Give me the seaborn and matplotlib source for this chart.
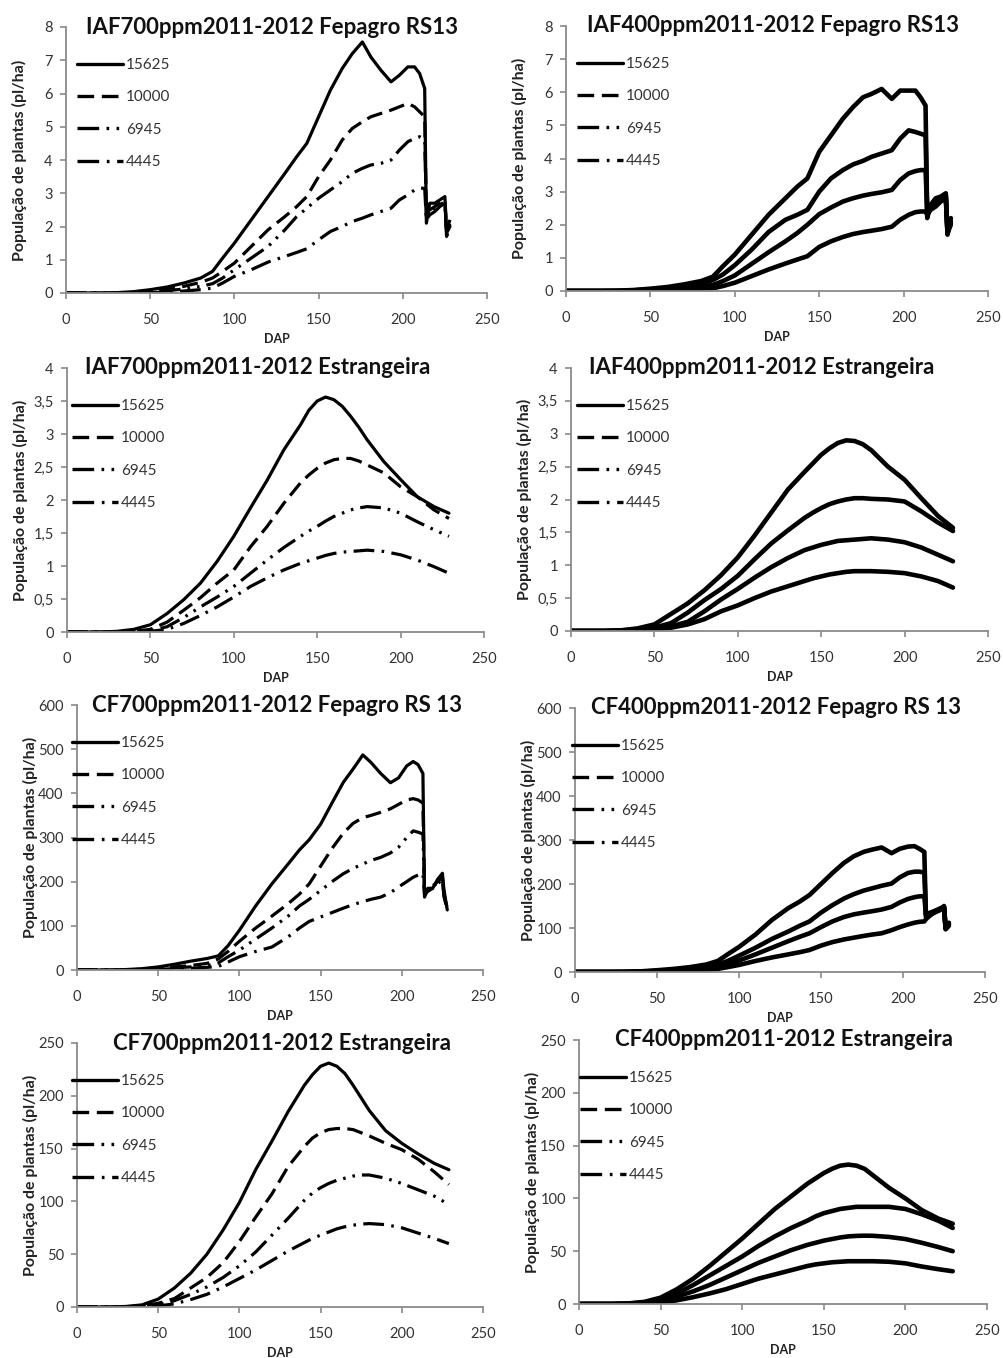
import matplotlib
matplotlib.use("Agg")
import matplotlib.pyplot as plt
import seaborn as sns
from matplotlib.lines import Line2D
from matplotlib.ticker import FuncFormatter

sns.set_theme(style="white")
plt.rcParams['font.family'] = ['Lato', 'DejaVu Sans']

# ---------------- data ----------------
densities = ["15625", "10000", "6945", "4445"]

dap_fep = [0, 20, 30, 40, 50, 60, 70, 80, 87, 93, 100, 110, 120, 130, 137, 143, 150, 157, 164, 170,
           176, 181, 187, 193, 198, 203, 207, 210, 213, 214, 216, 219, 222, 225, 226, 228]
dap_est = [0, 10, 20, 30, 40, 50, 60, 70, 80, 90, 100, 110, 120, 130, 140, 145, 150, 155, 160, 165,
           170, 175, 180, 190, 200, 210, 220, 229]

# IAF 700 ppm Fepagro RS13
iaf700_fep_15625 = [0, 0, 0.01, 0.04, 0.1, 0.18, 0.3, 0.45, 0.65, 1.05, 1.5, 2.2, 2.9, 3.6, 4.1, 4.5, 5.3, 6.1, 6.75, 7.2,
                    7.55, 7.1, 6.7, 6.35, 6.55, 6.8, 6.8, 6.6, 6.15, 2.1, 2.7, 2.7, 2.8, 2.9, 1.8, 2.0]
iaf700_fep_10000 = [0, 0, 0, 0.02, 0.06, 0.12, 0.2, 0.32, 0.45, 0.65, 0.9, 1.4, 1.9, 2.3, 2.6, 2.9, 3.5, 4.0, 4.6, 4.95,
                    5.15, 5.3, 5.4, 5.5, 5.6, 5.7, 5.6, 5.45, 5.3, 2.4, 2.5, 2.6, 2.7, 2.8, 1.9, 2.2]
iaf700_fep_6945 = [0, 0, 0, 0.01, 0.03, 0.07, 0.12, 0.2, 0.28, 0.45, 0.7, 1.05, 1.4, 1.9, 2.3, 2.55, 2.85, 3.1, 3.35, 3.6,
                   3.75, 3.85, 3.9, 4.0, 4.3, 4.55, 4.65, 4.7, 4.6, 2.3, 2.45, 2.55, 2.65, 2.75, 1.75, 2.1]
iaf700_fep_4445 = [0, 0, 0, 0, 0.01, 0.03, 0.06, 0.1, 0.15, 0.3, 0.5, 0.7, 0.93, 1.1, 1.22, 1.33, 1.6, 1.85, 2.0, 2.15,
                   2.25, 2.35, 2.45, 2.55, 2.8, 2.95, 3.1, 3.15, 3.15, 2.2, 2.35, 2.45, 2.6, 2.7, 1.7, 2.0]

# IAF 400 ppm Fepagro RS13
iaf400_fep_15625 = [0, 0, 0.01, 0.03, 0.07, 0.12, 0.2, 0.3, 0.43, 0.75, 1.1, 1.7, 2.3, 2.8, 3.15, 3.4, 4.2, 4.7, 5.2, 5.55,
                    5.85, 5.95, 6.1, 5.8, 6.05, 6.05, 6.05, 5.85, 5.6, 2.2, 2.6, 2.8, 2.85, 2.95, 1.7, 2.2]
iaf400_fep_10000 = [0, 0, 0, 0.02, 0.05, 0.09, 0.15, 0.23, 0.33, 0.5, 0.78, 1.25, 1.78, 2.15, 2.3, 2.45, 3.0, 3.4, 3.65, 3.82,
                    3.93, 4.05, 4.15, 4.25, 4.6, 4.85, 4.8, 4.75, 4.7, 2.3, 2.5, 2.7, 2.8, 2.9, 1.8, 2.1]
iaf400_fep_6945 = [0, 0, 0, 0.01, 0.03, 0.06, 0.1, 0.14, 0.18, 0.3, 0.47, 0.82, 1.17, 1.5, 1.75, 2.0, 2.32, 2.52, 2.7, 2.8,
                   2.88, 2.93, 2.98, 3.05, 3.35, 3.55, 3.62, 3.65, 3.65, 2.4, 2.55, 2.65, 2.75, 2.85, 1.8, 2.05]
iaf400_fep_4445 = [0, 0, 0, 0, 0.01, 0.03, 0.05, 0.07, 0.08, 0.15, 0.25, 0.45, 0.65, 0.83, 0.95, 1.05, 1.33, 1.5, 1.63, 1.72,
                   1.78, 1.82, 1.87, 1.94, 2.15, 2.3, 2.38, 2.4, 2.4, 2.3, 2.45, 2.55, 2.7, 2.8, 1.75, 2.0]

# IAF 700 ppm Estrangeira
iaf700_est_15625 = [0, 0, 0, 0.01, 0.04, 0.11, 0.28, 0.49, 0.74, 1.07, 1.45, 1.88, 2.3, 2.76, 3.14, 3.36, 3.5, 3.56, 3.52, 3.42,
                    3.27, 3.1, 2.91, 2.58, 2.31, 2.05, 1.9, 1.8]
iaf700_est_10000 = [0, 0, 0, 0, 0.01, 0.04, 0.15, 0.33, 0.52, 0.74, 0.94, 1.29, 1.6, 1.95, 2.26, 2.38, 2.48, 2.56, 2.61, 2.63,
                    2.63, 2.59, 2.53, 2.41, 2.2, 2.05, 1.85, 1.72]
iaf700_est_6945 = [0, 0, 0, 0, 0, 0.02, 0.08, 0.22, 0.38, 0.53, 0.69, 0.89, 1.09, 1.28, 1.45, 1.53, 1.6, 1.68, 1.75, 1.8,
                   1.85, 1.88, 1.9, 1.88, 1.8, 1.67, 1.55, 1.45]
iaf700_est_4445 = [0, 0, 0, 0, 0, 0.01, 0.04, 0.13, 0.25, 0.38, 0.53, 0.69, 0.82, 0.94, 1.04, 1.08, 1.12, 1.16, 1.19, 1.21,
                   1.22, 1.23, 1.24, 1.22, 1.17, 1.09, 0.99, 0.89]

# IAF 400 ppm Estrangeira
iaf400_est_15625 = [0, 0, 0, 0.01, 0.04, 0.1, 0.26, 0.42, 0.62, 0.85, 1.12, 1.45, 1.8, 2.15, 2.42, 2.55, 2.68, 2.78, 2.86, 2.9,
                    2.89, 2.84, 2.75, 2.5, 2.3, 2.02, 1.75, 1.57]
iaf400_est_10000 = [0, 0, 0, 0.01, 0.02, 0.05, 0.12, 0.28, 0.47, 0.64, 0.84, 1.09, 1.33, 1.53, 1.72, 1.8, 1.87, 1.93, 1.97, 2.0,
                    2.02, 2.02, 2.01, 2.0, 1.97, 1.82, 1.65, 1.52]
iaf400_est_6945 = [0, 0, 0, 0, 0.01, 0.03, 0.07, 0.14, 0.3, 0.48, 0.64, 0.81, 0.97, 1.11, 1.23, 1.27, 1.31, 1.34, 1.37, 1.38,
                   1.39, 1.4, 1.41, 1.39, 1.35, 1.27, 1.16, 1.06]
iaf400_est_4445 = [0, 0, 0, 0, 0.01, 0.02, 0.05, 0.1, 0.18, 0.3, 0.39, 0.5, 0.6, 0.68, 0.76, 0.8, 0.83, 0.86, 0.88, 0.9,
                   0.91, 0.91, 0.91, 0.9, 0.88, 0.83, 0.76, 0.66]

# CF 700 ppm Fepagro RS13
cf700_fep_15625 = [0, 0, 1, 3, 7, 13, 20, 26, 32, 55, 90, 145, 195, 240, 272, 295, 330, 378, 425, 455,
                   487, 470, 445, 424, 435, 462, 472, 465, 445, 165, 185, 185, 205, 219, 180, 136]
cf700_fep_10000 = [0, 0, 0, 1.5, 4, 7, 10, 15, 25, 42, 65, 95, 122, 150, 172, 195, 235, 275, 310, 332,
                   345, 350, 357, 365, 375, 385, 388, 385, 378, 175, 185, 190, 200, 210, 170, 140]
cf700_fep_6945 = [0, 0, 0, 1, 2.5, 5, 7, 10, 16, 30, 45, 70, 95, 122, 145, 160, 180, 200, 218, 230,
                  240, 248, 255, 265, 278, 300, 315, 312, 308, 175, 180, 188, 198, 208, 170, 140]
cf700_fep_4445 = [0, 0, 0, 0.5, 1.5, 3, 4, 6, 8, 18, 30, 42, 52, 75, 95, 110, 120, 130, 140, 148,
                  155, 160, 165, 175, 188, 200, 210, 215, 219, 170, 178, 185, 195, 205, 165, 138]

# CF 400 ppm Fepagro RS13
cf400_fep_15625 = [0, 0, 0.5, 1.5, 4, 7, 11, 17, 25, 40, 57, 85, 118, 145, 160, 175, 200, 225, 248, 263,
                   273, 278, 283, 270, 280, 285, 286, 280, 273, 125, 130, 135, 140, 150, 100, 112]
cf400_fep_10000 = [0, 0, 0, 1, 2.5, 5, 8, 12, 17, 25, 37, 55, 75, 92, 105, 115, 135, 152, 167, 177,
                   185, 190, 196, 201, 215, 225, 228, 228, 226, 128, 133, 138, 143, 148, 98, 108]
cf400_fep_6945 = [0, 0, 0, 0.5, 1.5, 3, 5, 8, 11, 17, 26, 40, 55, 70, 80, 88, 102, 115, 125, 131,
                  135, 138, 142, 148, 158, 166, 170, 172, 172, 130, 134, 138, 143, 148, 100, 110]
cf400_fep_4445 = [0, 0, 0, 0.3, 1, 2, 3, 5, 7, 11, 16, 25, 33, 40, 45, 50, 60, 68, 74, 78,
                  82, 85, 88, 95, 102, 108, 112, 114, 115, 120, 127, 135, 140, 145, 97, 105]

# CF 700 ppm Estrangeira
cf700_est_15625 = [0, 0, 0, 0.5, 2, 7.5, 18, 32, 50, 73, 99, 130, 157, 185, 210, 220, 228, 231, 228, 221,
                   210, 198, 186, 167, 155, 145, 136, 130]
cf700_est_10000 = [0, 0, 0, 0.2, 1, 3.5, 8, 18, 28, 42, 62, 85, 107, 133, 152, 160, 165, 168, 169, 169,
                   168, 165, 162, 155, 149, 140, 128, 116]
cf700_est_6945 = [0, 0, 0, 0, 0.5, 2, 6, 12, 19, 28, 39, 52, 68, 84, 101, 108, 113, 117, 120, 122,
                  124, 125, 125, 122, 117, 111, 105, 97]
cf700_est_4445 = [0, 0, 0, 0, 0.3, 1, 3, 7, 12, 19, 27, 35, 44, 53, 61, 65, 68, 71, 74, 76,
                  77.5, 78.5, 79, 78, 75, 70, 65, 60]

# CF 400 ppm Estrangeira
cf400_est_15625 = [0, 0, 0, 0.5, 2, 6, 14, 24, 36, 49, 62, 76, 90, 102, 114, 119, 124, 128, 131, 132,
                   131, 128, 122, 110, 100, 89, 81, 76]
cf400_est_10000 = [0, 0, 0, 0.3, 1.5, 4.5, 10, 18, 27, 36, 45, 55, 64, 72, 79, 83, 86, 88, 90, 91,
                   92, 92, 92, 92, 90, 85, 79, 72]
cf400_est_6945 = [0, 0, 0, 0.2, 1, 3, 7, 12, 18, 25, 32, 39, 45, 51, 56, 58, 60, 61.5, 63, 64,
                  64.5, 64.7, 64.6, 63.5, 61.5, 58, 54, 50]
cf400_est_4445 = [0, 0, 0, 0.1, 0.5, 1.5, 3.5, 6.5, 10, 14, 19, 24, 28, 32, 36, 37.5, 38.5, 39.5, 40, 40.5,
                  40.5, 40.5, 40.5, 40, 38.5, 35.5, 33, 31]

titles = ["IAF700ppm2011-2012 Fepagro RS13", "IAF400ppm2011-2012 Fepagro RS13",
          "IAF700ppm2011-2012 Estrangeira", "IAF400ppm2011-2012 Estrangeira",
          "CF700ppm2011-2012 Fepagro RS 13", "CF400ppm2011-2012 Fepagro RS 13",
          "CF700ppm2011-2012 Estrangeira", "CF400ppm2011-2012 Estrangeira"]
x_ticks = [0, 50, 100, 150, 200, 250]
y_ticks_iaf_fep = [0, 1, 2, 3, 4, 5, 6, 7, 8]
y_ticks_iaf_est = [0, 0.5, 1, 1.5, 2, 2.5, 3, 3.5, 4]
y_ticks_cf_fep = [0, 100, 200, 300, 400, 500, 600]
y_ticks_cf_est = [0, 50, 100, 150, 200, 250]
y_label = "População de plantas (pl/ha)"
x_label = "DAP"

panels = [
    (dap_fep, [iaf700_fep_15625, iaf700_fep_10000, iaf700_fep_6945, iaf700_fep_4445], y_ticks_iaf_fep),
    (dap_fep, [iaf400_fep_15625, iaf400_fep_10000, iaf400_fep_6945, iaf400_fep_4445], y_ticks_iaf_fep),
    (dap_est, [iaf700_est_15625, iaf700_est_10000, iaf700_est_6945, iaf700_est_4445], y_ticks_iaf_est),
    (dap_est, [iaf400_est_15625, iaf400_est_10000, iaf400_est_6945, iaf400_est_4445], y_ticks_iaf_est),
    (dap_fep, [cf700_fep_15625, cf700_fep_10000, cf700_fep_6945, cf700_fep_4445], y_ticks_cf_fep),
    (dap_fep, [cf400_fep_15625, cf400_fep_10000, cf400_fep_6945, cf400_fep_4445], y_ticks_cf_fep),
    (dap_est, [cf700_est_15625, cf700_est_10000, cf700_est_6945, cf700_est_4445], y_ticks_cf_est),
    (dap_est, [cf400_est_15625, cf400_est_10000, cf400_est_6945, cf400_est_4445], y_ticks_cf_est),
]

# ---------------- layout (pixels) ----------------
W, H = 1004, 1358
# x0, x1, ytop, ybot, legend line start x, title centre x
boxes = [
    (66, 487, 27, 293, 77, 272), (566, 988, 26, 291, 577, 773),
    (67, 484, 368, 632, 72, 258), (571, 988, 368, 631, 577, 762),
    (77, 483, 705, 970, 72, 277), (575, 985, 708, 972, 572, 776),
    (77, 483, 1043, 1307, 72, 282), (579, 987, 1040, 1304, 580, 784),
]

line_styles = ['-', (0, (5, 2.3)), (0, (6.5, 2.2, 0.8, 2.2, 0.8, 2.2)), (0, (6.5, 2.3, 0.8, 2.3))]
spine_col = '#8a8a8a'
text_col = '#333333'


def fmt(v, pos):
    if abs(v - round(v)) < 1e-9:
        return f"{int(round(v))}"
    return f"{v:.1f}".replace('.', ',')


fig = plt.figure(figsize=(W / 100, H / 100), dpi=100)
fig.patch.set_facecolor('white')

for idx, ((dap, series, yt), (x0, x1, yt_px, yb_px, lx, tx)) in enumerate(zip(panels, boxes)):
    wpx, hpx = x1 - x0, yb_px - yt_px
    ax = fig.add_axes([x0 / W, 1 - yb_px / H, wpx / W, hpx / H])
    ax.set_facecolor('white')
    right_col = idx % 2 == 1
    for vals, ls in zip(series, line_styles):
        sns.lineplot(x=dap, y=vals, ax=ax, color='black',
                     linewidth=3.3 if right_col else 2.3,
                     linestyle='-' if right_col else ls,
                     estimator=None, sort=False, legend=False)
    ax.set_xlim(0, 250)
    ax.set_ylim(yt[0], yt[-1])
    ax.set_xticks(x_ticks)
    ax.set_yticks(yt)
    ax.yaxis.set_major_formatter(FuncFormatter(fmt))
    for s in ['top', 'right']:
        ax.spines[s].set_visible(False)
    for s in ['left', 'bottom']:
        ax.spines[s].set_color(spine_col)
        ax.spines[s].set_linewidth(1.3)
    ax.tick_params(axis='both', direction='out', bottom=True, left=True, length=4.5, width=1.2,
                   color=spine_col, labelsize=10.5, labelcolor=text_col)
    ax.tick_params(axis='x', pad=10)
    ax.tick_params(axis='y', pad=5)
    ax.set_ylabel(y_label, fontsize=11.5, fontweight='bold', color='#222222')
    ax.yaxis.set_label_coords(-39 / wpx, 0.5)
    ax.set_xlabel(x_label, fontsize=9, fontweight='bold', color='#222222')
    ax.xaxis.set_label_coords(0.5, -40 / hpx)
    ax.text((tx - x0) / wpx, 1.0, titles[idx], transform=ax.transAxes, ha='center', va='center',
            fontsize=16, fontweight='bold', color='#111111')
    handles = [Line2D([], [], color='black', lw=2.4, linestyle=ls) for ls in line_styles]
    ax.legend(handles, densities, loc='upper left', bbox_to_anchor=((lx - x0) / wpx, 1 - 31 / hpx),
              frameon=False, borderpad=0, borderaxespad=0, handlelength=3.0, handletextpad=0.2,
              labelspacing=1.2, fontsize=11, labelcolor=text_col)

fig.savefig("out.png", dpi=100, facecolor='white')
